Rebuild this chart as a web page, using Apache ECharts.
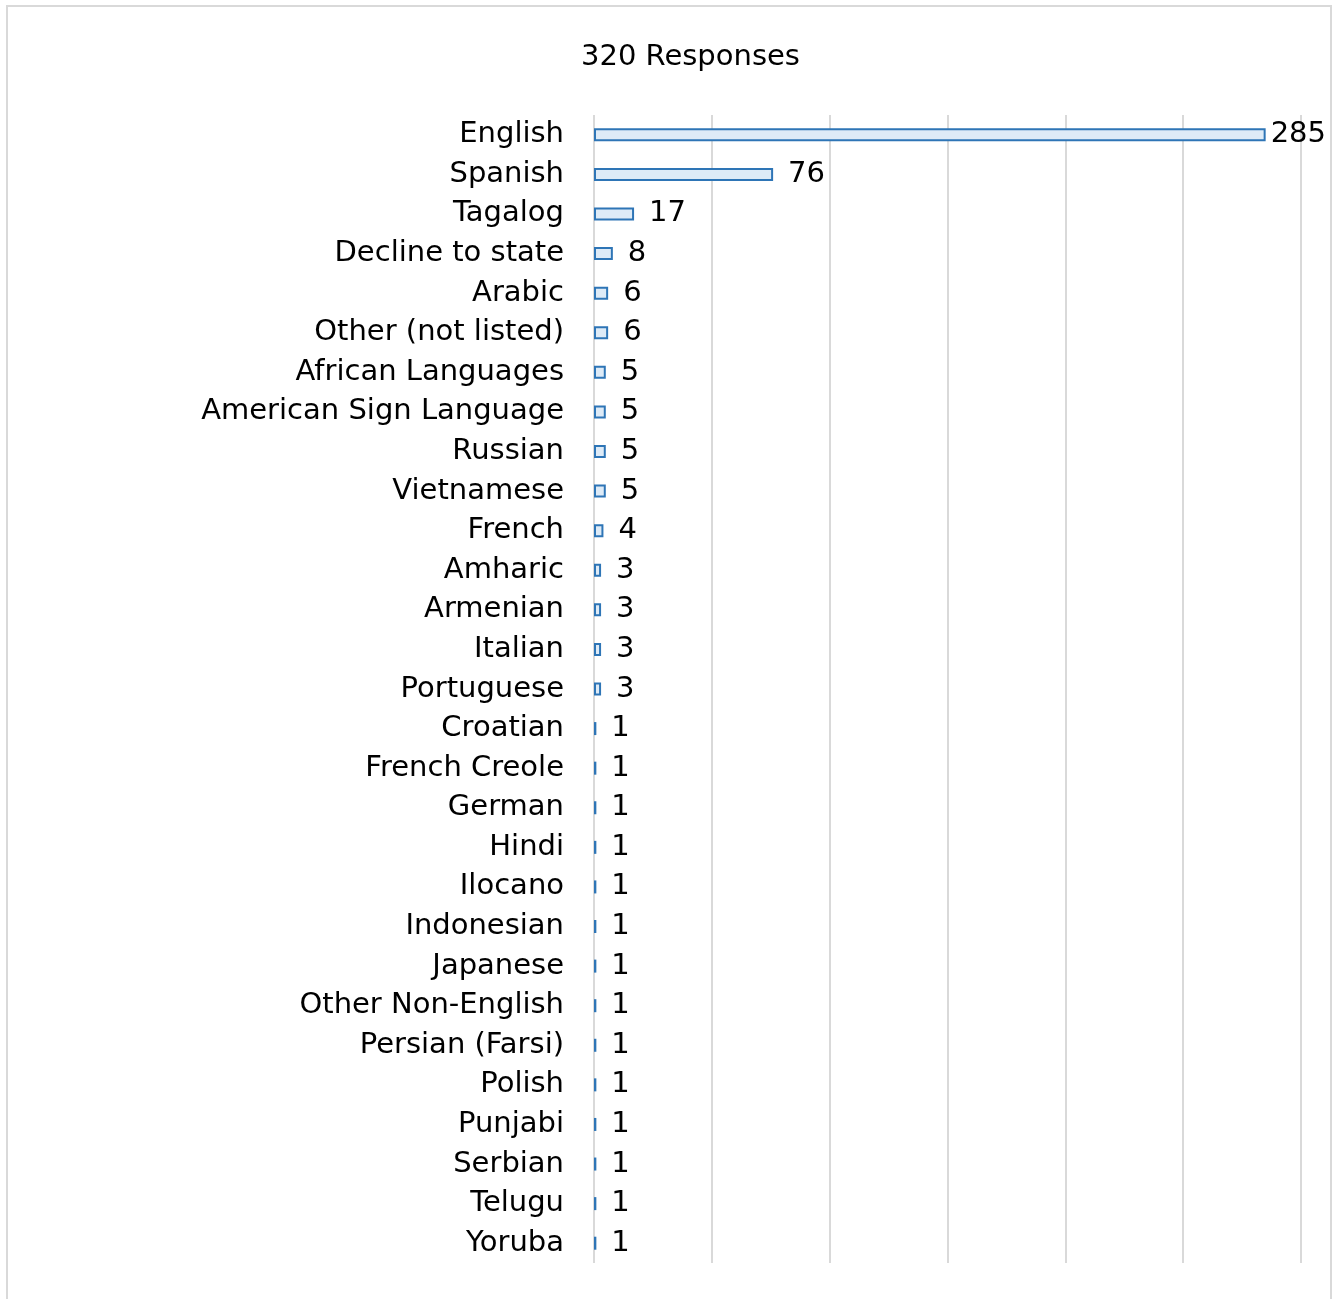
<!DOCTYPE html>
<html><head><meta charset="utf-8">
<script src="https://cdn.jsdelivr.net/npm/echarts@6/dist/echarts.min.js"></script>
<style>html,body{margin:0;padding:0;background:#fff}#c{width:1343px;height:1299px}</style>
</head><body><div id="c"></div>
<script>
const categories = ["English","Spanish","Tagalog","Decline to state","Arabic","Other (not listed)","African Languages","American Sign Language","Russian","Vietnamese","French","Amharic","Armenian","Italian","Portuguese","Croatian","French Creole","German","Hindi","Ilocano","Indonesian","Japanese","Other Non-English","Persian (Farsi)","Polish","Punjabi","Serbian","Telugu","Yoruba"];
const values = [285,76,17,8,6,6,5,5,5,5,4,3,3,3,3,1,1,1,1,1,1,1,1,1,1,1,1,1,1];
const titleText = "320 Responses";
const FONT = "'DejaVu Sans', sans-serif";
const chart = echarts.init(document.getElementById('c'), null, {renderer:'canvas'});
chart.setOption({
  animation:false,
  backgroundColor:'#fff',
  graphic:[{type:'rect',shape:{x:7,y:6,width:1324,height:1310},style:{fill:'none',stroke:'#d9d9d9',lineWidth:2},silent:true,z:-1}],
  title:{text:titleText,left:576,top:38,textStyle:{fontFamily:FONT,fontWeight:'normal',fontSize:29,color:'#000'}},
  grid:{left:594,right:42,top:115,bottom:36,containLabel:false},
  xAxis:{type:'value',min:0,max:300,interval:50,axisLabel:{show:false},axisLine:{show:false},axisTick:{show:false},
    splitLine:{show:true,lineStyle:{color:'#d9d9d9',width:2}}},
  yAxis:{type:'category',data:categories,inverse:true,axisLine:{show:false},axisTick:{show:false},
    axisLabel:{margin:30,fontFamily:FONT,fontSize:29,color:'#000',padding:[3,0,0,0]}},
  series:[{type:'bar',data:values.map((v,i)=>({value:v,label:{distance:i===0?5:15}})),barWidth:13,
    itemStyle:{color:'#deebf7',borderColor:'#2e75b6',borderWidth:2},
    label:{show:true,position:'right',fontFamily:FONT,fontSize:29,color:'#000',padding:[4,0,0,0]}}]
});
</script></body></html>
